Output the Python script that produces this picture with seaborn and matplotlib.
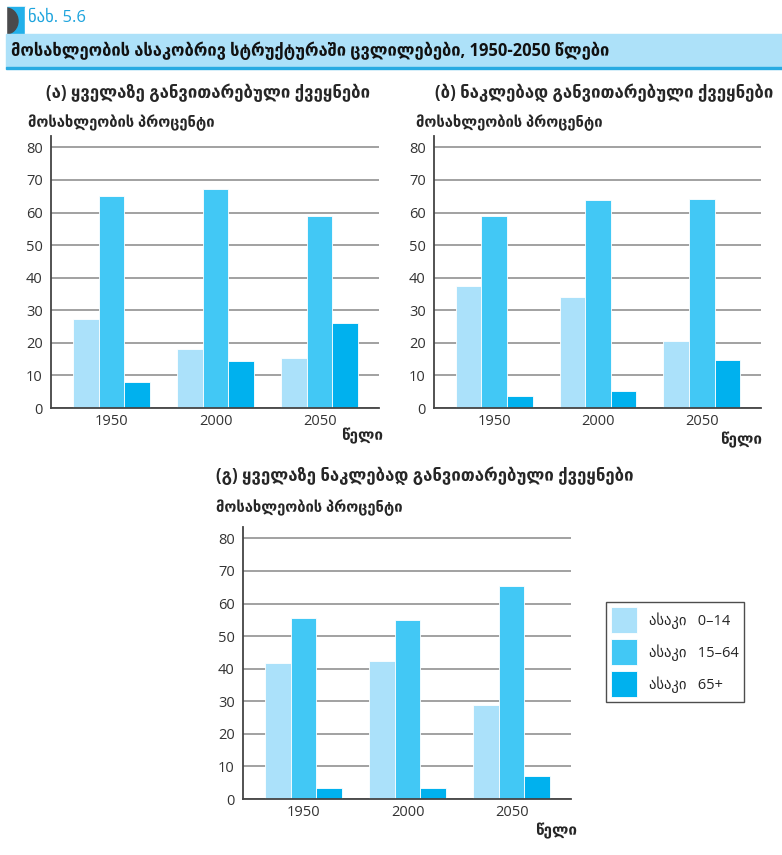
import pandas as pd
import matplotlib
matplotlib.use("Agg")
import matplotlib.pyplot as plt
import matplotlib.patches as mpatches
import seaborn as sns

# -------------------------------
# DATA
# -------------------------------
years = ["1950", "2000", "2050"]
age_groups = ["ასაკი   0–14", "ასაკი   15–64", "ასაკი   65+"]

developed_young = [27.2, 18.1, 15.5]
developed_work = [65.0, 67.2, 58.9]
developed_old = [7.9, 14.3, 26.1]

less_dev_young = [37.4, 34.0, 20.7]
less_dev_work = [58.9, 63.8, 64.2]
less_dev_old = [3.8, 5.3, 14.8]

least_dev_young = [41.6, 42.3, 28.8]
least_dev_work = [55.5, 55.1, 65.4]
least_dev_old = [3.5, 3.5, 7.2]

panel_titles = [
    "(ა) ყველაზე განვითარებული ქვეყნები",
    "(ბ) ნაკლებად განვითარებული ქვეყნები",
    "(გ) ყველაზე ნაკლებად განვითარებული ქვეყნები",
]
fig_number = "ნახ. 5.6"
main_title = "მოსახლეობის ასაკობრივ სტრუქტურაში ცვლილებები, 1950-2050 წლები"
y_label = "მოსახლეობის პროცენტი"
x_label = "წელი"
y_ticks = [0, 10, 20, 30, 40, 50, 60, 70, 80]

colors = ["#abe1fa", "#42c8f5", "#00b1ee"]


def long_table(young, work, old):
    rows = []
    for vals, grp in zip([young, work, old], age_groups):
        for yr, v in zip(years, vals):
            rows.append({"year": yr, "age": grp, "value": v})
    return pd.DataFrame(rows)


panels = [
    long_table(developed_young, developed_work, developed_old),
    long_table(less_dev_young, less_dev_work, less_dev_old),
    long_table(least_dev_young, least_dev_work, least_dev_old),
]

# -------------------------------
# FIGURE SETUP
# -------------------------------
sns.set_style("white")
plt.rcParams["font.family"] = ["Open Sans", "DejaVu Sans"]

W, H = 782, 855
fig = plt.figure(figsize=(W / 100, H / 100), dpi=100)


def px_axes(x0, y0, x1, y1):
    return fig.add_axes([x0 / W, 1 - y1 / H, (x1 - x0) / W, (y1 - y0) / H])


def px_text(x, y, s, **kw):
    fig.text(x / W, 1 - y / H, s, **kw)


# header decorations
fig.patches.append(mpatches.Rectangle((6 / W, 1 - 34 / H), 19 / W, 27 / H,
                                      transform=fig.transFigure, color="#22b0ea"))
fig.patches.append(mpatches.Rectangle((25 / W, 1 - 34 / H), 60 / W, 27 / H,
                                      transform=fig.transFigure, color="white"))
fig.patches.append(mpatches.Ellipse((6 / W, 1 - 21 / H), 24 / W, 26 / H,
                                    transform=fig.transFigure, color="#4a4a4c"))
fig.patches.append(mpatches.Rectangle((0, 1 - 34 / H), 6 / W, 30 / H,
                                      transform=fig.transFigure, color="white"))
fig.patches.append(mpatches.Rectangle((6 / W, 1 - 67 / H), (W - 6) / W, 33 / H,
                                      transform=fig.transFigure, color="#ade1f9"))
fig.patches.append(mpatches.Rectangle((6 / W, 1 - 69 / H), (W - 6) / W, 2 / H,
                                      transform=fig.transFigure, color="#29abe2"))
px_text(28, 18, fig_number, color="#1ea4dd", fontsize=12, va="center")
px_text(11, 51, main_title, fontsize=11.9, fontweight="bold", va="center", color="#111111")

# panel geometry (pixels): axes box, title pos, ylabel pos, xlabel pos
layout = [
    dict(box=(51, 136, 379, 408), title=(46, 93), ylab=(28, 123), xlab=(383, 436)),
    dict(box=(434, 136, 761, 408), title=(435, 93), ylab=(416, 123), xlab=(762, 440)),
    dict(box=(243, 527, 571, 799), title=(216, 476), ylab=(216, 508), xlab=(577, 831)),
]

axes = []
for df, lay, ttl in zip(panels, layout, panel_titles):
    ax = px_axes(*lay["box"])
    sns.barplot(data=df, x="year", y="value", hue="age", hue_order=age_groups,
                palette=colors, width=0.74, edgecolor="white", linewidth=0.6,
                saturation=1, ax=ax, legend=True)
    ax.set_ylim(0, 83.5)
    ax.set_xlim(-0.58, 2.57)
    ax.set_yticks(y_ticks)
    ax.set_yticks([5, 15, 25, 35, 45, 55, 65, 75], minor=True)
    ax.yaxis.grid(True, color="#9a9a9a", linewidth=1.3)
    ax.set_axisbelow(True)
    ax.tick_params(axis="y", which="major", length=0, labelsize=10.5,
                   labelcolor="#333333", pad=6)
    ax.tick_params(axis="y", which="minor", length=6, width=1.2, direction="in",
                   color="#555555")
    ax.tick_params(axis="x", length=0, labelsize=10.5, labelcolor="#333333", pad=4)
    ax.set_xlabel("")
    ax.set_ylabel("")
    for side in ["top", "right"]:
        ax.spines[side].set_visible(False)
    for side in ["left", "bottom"]:
        ax.spines[side].set_color("#444444")
        ax.spines[side].set_linewidth(1.3)
    ax.get_legend().remove()
    fs = 12.2 if len(ttl) < 40 else 12.4
    px_text(*lay["title"], ttl, fontsize=12.1, fontweight="bold", va="center")
    px_text(*lay["ylab"], y_label, fontsize=10.6, fontweight="bold", va="center")
    px_text(*lay["xlab"], x_label, fontsize=11, fontweight="bold", va="center", ha="right")
    axes.append(ax)

# legend
handles = [mpatches.Patch(facecolor=c, edgecolor="white", linewidth=0.6) for c in colors]
leg = fig.legend(handles, age_groups, loc="upper left",
                 bbox_to_anchor=(606 / W, 1 - 602 / H), borderaxespad=0,
                 fancybox=False, frameon=True, edgecolor="#222222", fontsize=10.5,
                 handlelength=1.78, handleheight=2.37, labelspacing=0.41,
                 handletextpad=0.82, borderpad=0.35)
leg.get_frame().set_linewidth(1.0)

fig.savefig("out.png", dpi=100)
